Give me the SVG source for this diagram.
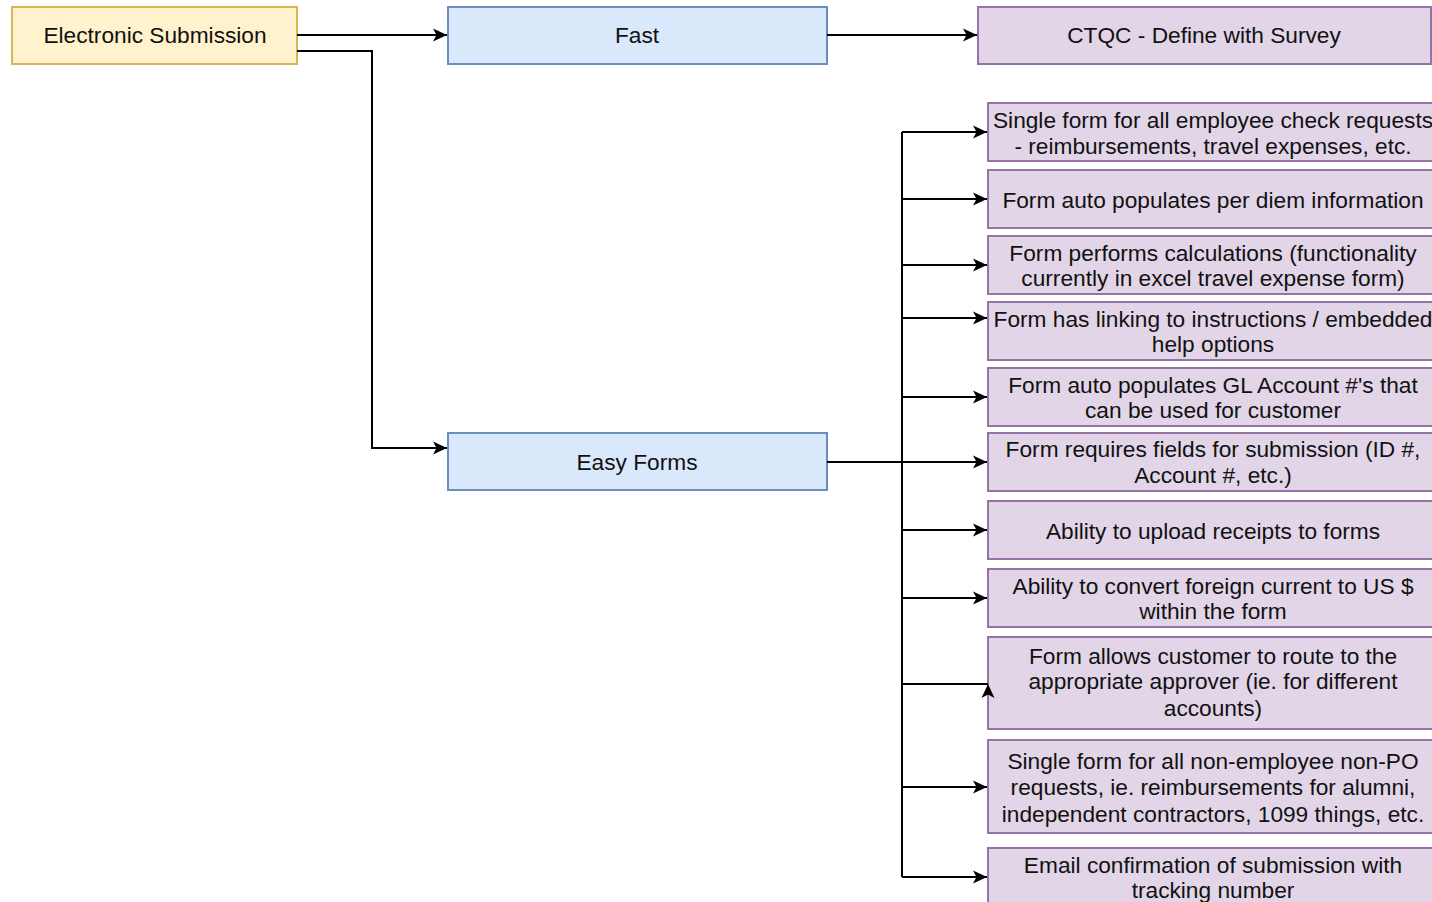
<svg xmlns="http://www.w3.org/2000/svg" width="1432" height="902" viewBox="0 0 1432 902">
<defs>
<marker id="arr" markerUnits="userSpaceOnUse" markerWidth="16" markerHeight="14" refX="14" refY="6.5" orient="auto" overflow="visible">
<path d="M0,0 L14,6.5 L0,13 L3.5,6.5 Z" fill="#000"/>
</marker>
<style>
.y{fill:#fff2cc;stroke:#d6b656;stroke-width:2}
.b{fill:#dae8fc;stroke:#6c8ebf;stroke-width:2}
.p{fill:#e1d5e7;stroke:#9673a6;stroke-width:2}
text{font-family:"Liberation Sans",Arial,Helvetica,sans-serif;font-size:22.7px;fill:#111;text-anchor:middle}
.c{fill:none;stroke:#000;stroke-width:2}
</style>
</defs>
<rect width="1432" height="902" fill="#fff"/>
<g id="electronic-submission"><rect class="y" x="12" y="7" width="285" height="57"/><text x="155" y="43">Electronic Submission</text></g>
<g id="fast"><rect class="b" x="448" y="7" width="379" height="57"/><text x="637" y="43">Fast</text></g>
<g id="ctqc"><rect class="p" x="978" y="7" width="453" height="57"/><text x="1204" y="43">CTQC - Define with Survey</text></g>
<g id="easy-forms"><rect class="b" x="448" y="433" width="379" height="57"/><text x="637" y="470">Easy Forms</text></g>
<g id="r1"><rect class="p" x="988" y="103" width="450" height="58"/><text x="1213" y="128">Single form for all employee check requests</text><text x="1213" y="154">- reimbursements, travel expenses, etc.</text></g>
<g id="r2"><rect class="p" x="988" y="170" width="450" height="58"/><text x="1213" y="208">Form auto populates per diem information</text></g>
<g id="r3"><rect class="p" x="988" y="236" width="450" height="58"/><text x="1213" y="261">Form performs calculations (functionality</text><text x="1213" y="286">currently in excel travel expense form)</text></g>
<g id="r4"><rect class="p" x="988" y="302" width="450" height="58"/><text x="1213" y="327">Form has linking to instructions / embedded</text><text x="1213" y="352">help options</text></g>
<g id="r5"><rect class="p" x="988" y="368" width="450" height="58"/><text x="1213" y="393">Form auto populates GL Account #'s that</text><text x="1213" y="418">can be used for customer</text></g>
<g id="r6"><rect class="p" x="988" y="433" width="450" height="58"/><text x="1213" y="457">Form requires fields for submission (ID #,</text><text x="1213" y="483">Account #, etc.)</text></g>
<g id="r7"><rect class="p" x="988" y="501" width="450" height="58"/><text x="1213" y="539">Ability to upload receipts to forms</text></g>
<g id="r8"><rect class="p" x="988" y="569" width="450" height="58"/><text x="1213" y="594">Ability to convert foreign current to US $</text><text x="1213" y="619">within the form</text></g>
<g id="r9"><rect class="p" x="988" y="637" width="450" height="92"/><text x="1213" y="664">Form allows customer to route to the</text><text x="1213" y="689">appropriate approver (ie. for different</text><text x="1213" y="716">accounts)</text></g>
<g id="r10"><rect class="p" x="988" y="740" width="450" height="93"/><text x="1213" y="769">Single form for all non-employee non-PO</text><text x="1213" y="795">requests, ie. reimbursements for alumni,</text><text x="1213" y="822">independent contractors, 1099 things, etc.</text></g>
<g id="r11"><rect class="p" x="988" y="848" width="450" height="60"/><text x="1213" y="873">Email confirmation of submission with</text><text x="1213" y="898">tracking number</text></g>
<g id="connectors">
<path class="c" d="M297,35 H447" marker-end="url(#arr)"/>
<path class="c" d="M297,51 H372 V448 H447" marker-end="url(#arr)"/>
<path class="c" d="M827,35 H977" marker-end="url(#arr)"/>
<path class="c" d="M827,462 H902"/>
<path class="c" d="M902,132 V877"/>
<path class="c" d="M902,132 H987" marker-end="url(#arr)"/>
<path class="c" d="M902,199 H987" marker-end="url(#arr)"/>
<path class="c" d="M902,265 H987" marker-end="url(#arr)"/>
<path class="c" d="M902,318 H987" marker-end="url(#arr)"/>
<path class="c" d="M902,397 H987" marker-end="url(#arr)"/>
<path class="c" d="M902,462 H987" marker-end="url(#arr)"/>
<path class="c" d="M902,530 H987" marker-end="url(#arr)"/>
<path class="c" d="M902,598 H987" marker-end="url(#arr)"/>
<path class="c" d="M902,684 H988"/>
<path d="M988,684 L994.5,698 L988,694.5 L981.5,698 Z" fill="#000"/>
<path class="c" d="M902,787 H987" marker-end="url(#arr)"/>
<path class="c" d="M902,877 H987" marker-end="url(#arr)"/>
</g>
</svg>
